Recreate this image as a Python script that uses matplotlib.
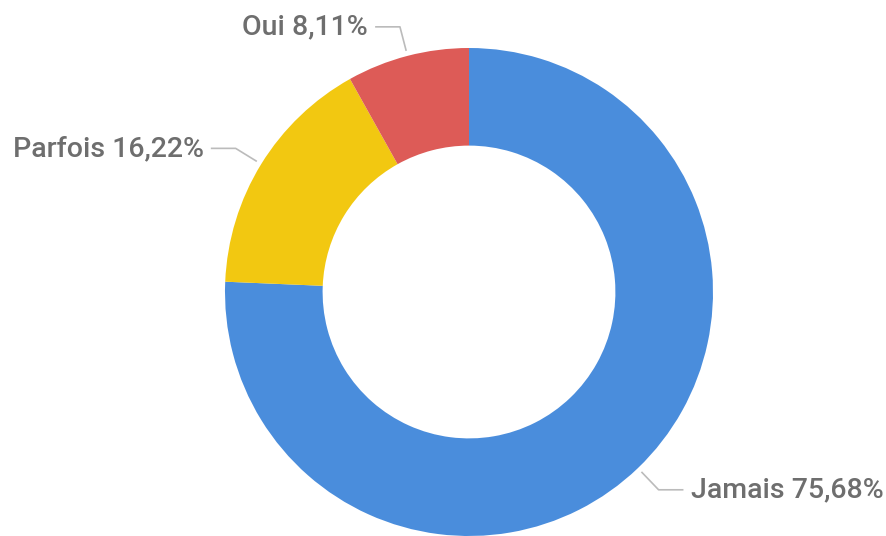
import matplotlib.pyplot as plt
import numpy as np

labels = ['Jamais', 'Parfois', 'Oui']
values = [75.68, 16.22, 8.11]
pct_text = ['75,68%', '16,22%', '8,11%']
colors = ['#4A8DDC', '#F2C811', '#DD5B57']

W, H = 887, 536
fig = plt.figure(figsize=(W / 100, H / 100), dpi=100)
ax = fig.add_axes([0, 0, 1, 1])
ax.set_xlim(0, W)
ax.set_ylim(0, H)
ax.set_aspect('equal')
ax.axis('off')

cx, cy, r = 469, H - 292, 244
wedges, _ = ax.pie(values, colors=colors, startangle=90, counterclock=False,
                   center=(cx, cy), radius=r, frame=True,
                   wedgeprops=dict(width=r * 0.4, linewidth=0))
ax.set_xlim(0, W)
ax.set_ylim(0, H)
ax.axis('off')

for w, lab, pt in zip(wedges, labels, pct_text):
    ang = np.deg2rad((w.theta1 + w.theta2) / 2)
    x0, y0 = cx + 250 * np.cos(ang), cy + 250 * np.sin(ang)
    x1, y1 = cx + 274 * np.cos(ang), cy + 274 * np.sin(ang)
    side = 1 if np.cos(ang) > 0 else -1
    x2 = x1 + side * 24
    ax.plot([x0, x1, x2], [y0, y1, y1], color='#BBBBBB', lw=1.2)
    ax.text(x2 + side * 8, y1, lab + ' ' + pt, ha='left' if side > 0 else 'right',
            va='center', fontsize=20.5, color='#6E6E6E', family='Roboto',
            weight='medium')

fig.savefig('out.png', dpi=100)
